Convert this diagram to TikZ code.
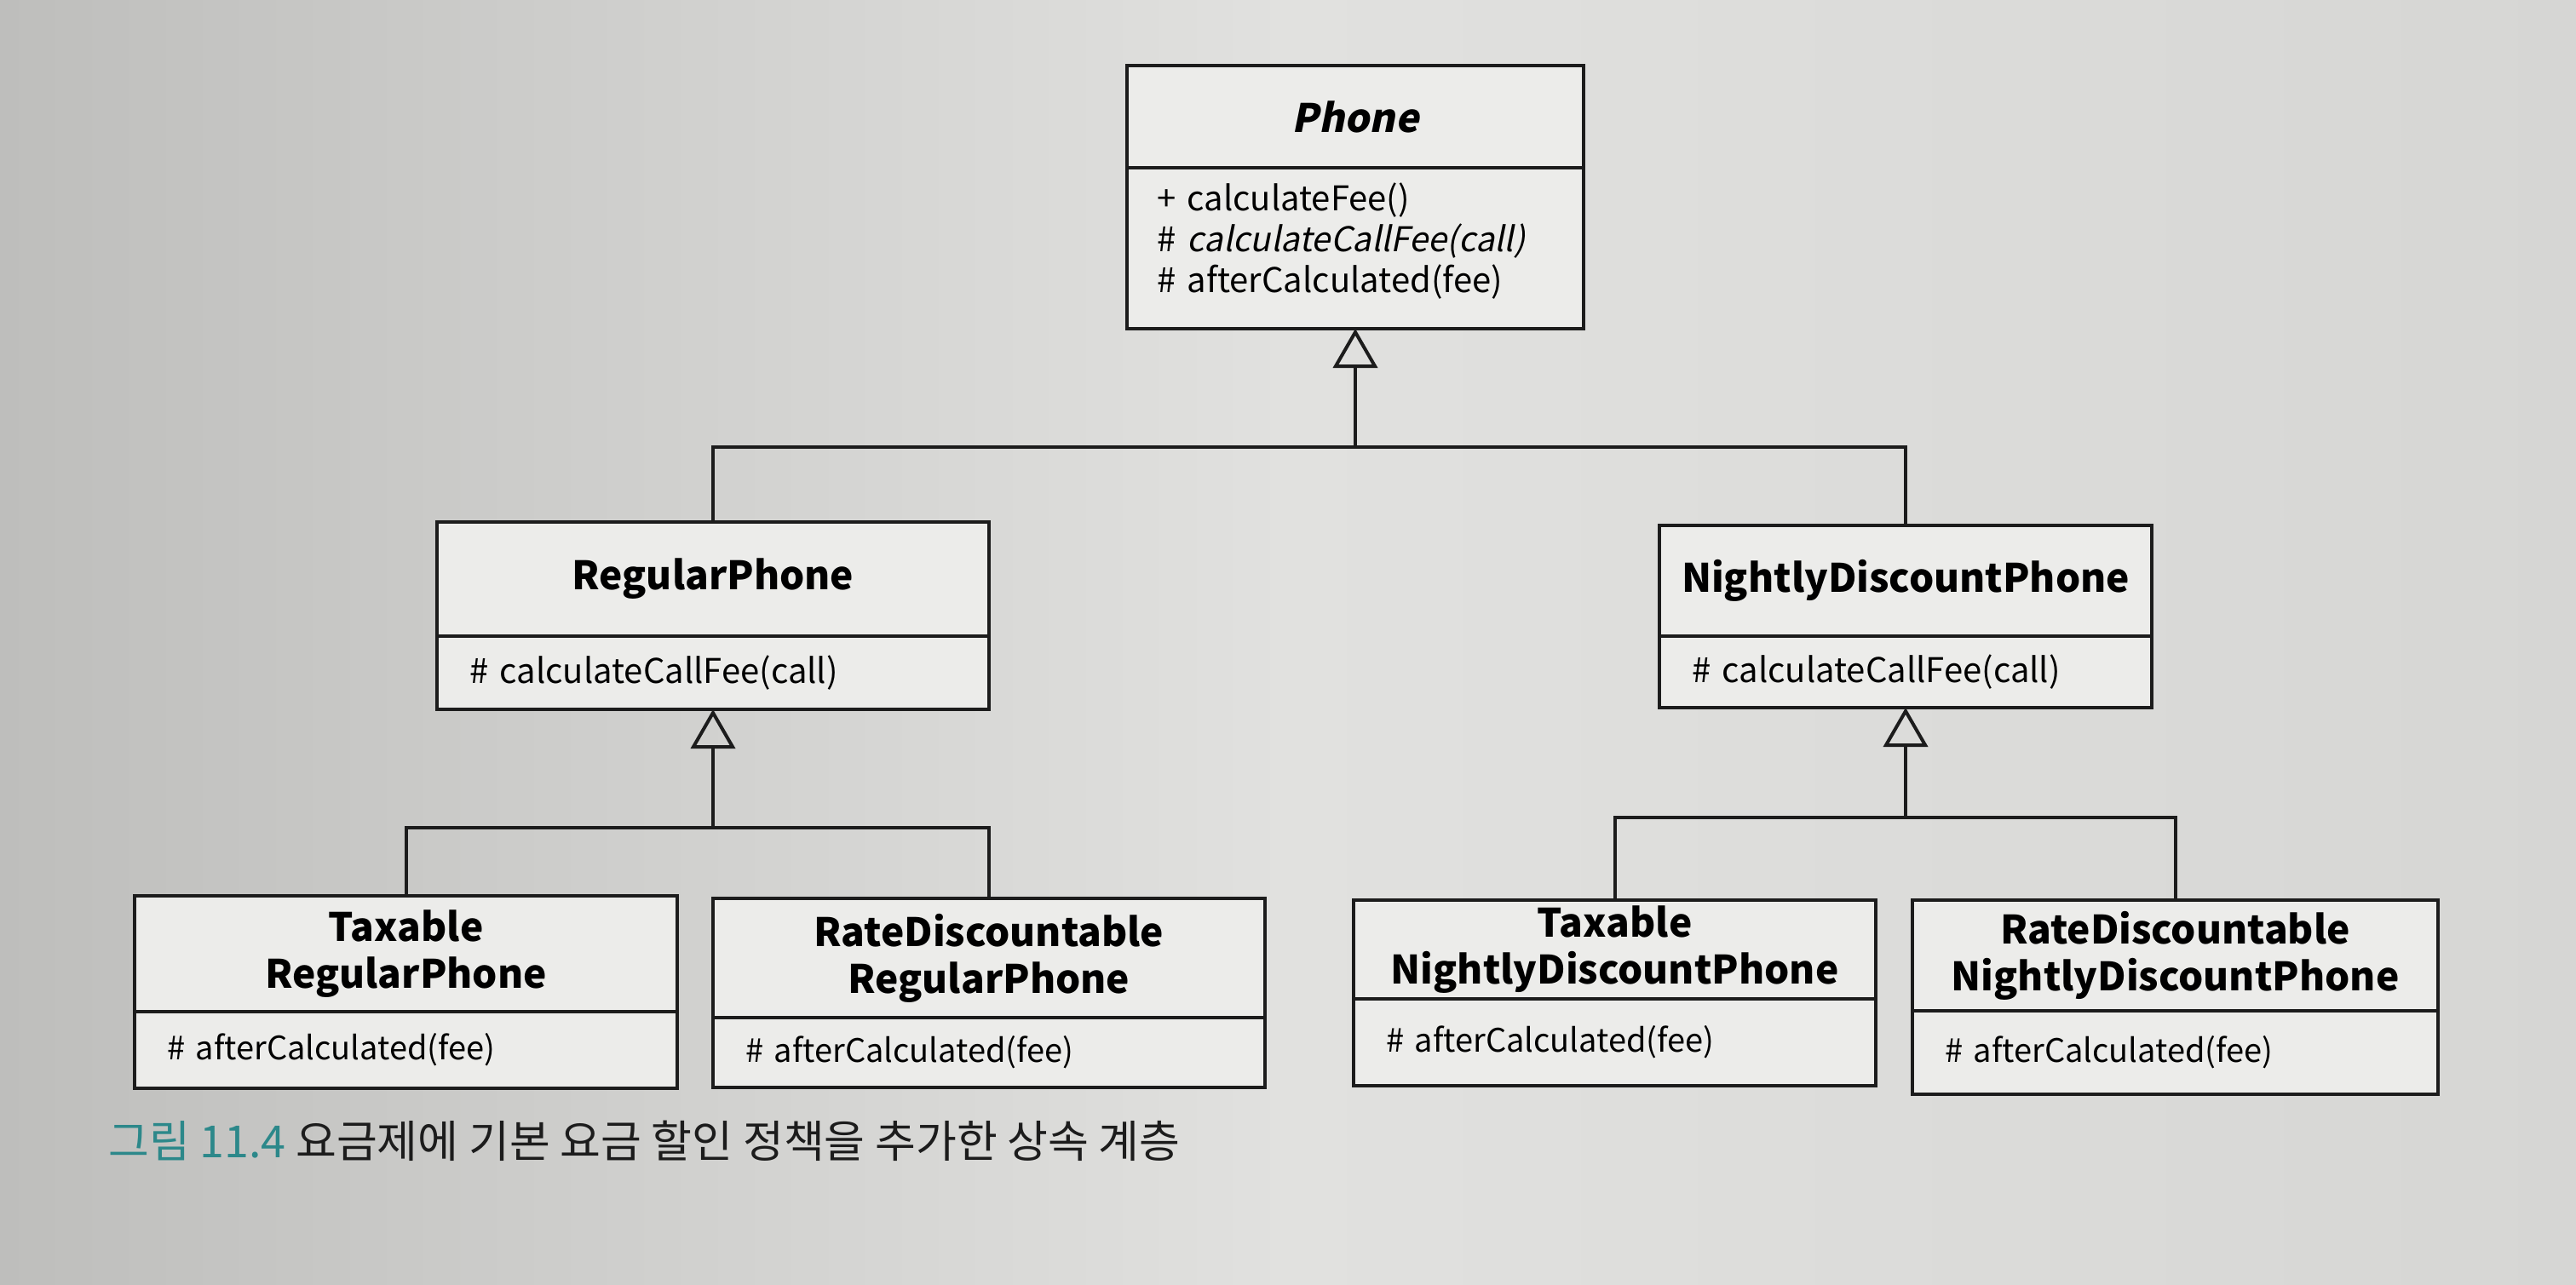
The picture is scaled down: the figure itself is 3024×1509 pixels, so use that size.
\documentclass[tikz,border=0pt]{standalone}
\usepackage{fontspec}
\setmainfont{Noto Sans CJK KR}
\newfontfamily\slantfam{Noto Sans CJK KR}[FakeSlant=0.2]
\usetikzlibrary{arrows.meta}
\definecolor{paperL}{RGB}{190,190,188}
\definecolor{paperM}{RGB}{225,225,223}
\definecolor{paperR}{RGB}{214,214,212}
\definecolor{boxfill}{RGB}{236,236,234}
\definecolor{ink}{RGB}{28,28,28}
\definecolor{capteal}{RGB}{44,136,138}
\begin{document}
\begin{tikzpicture}[x=1pt,y=-1pt,
  clsbox/.style={draw=ink, fill=boxfill, line width=4.5pt, anchor=north west, inner sep=0pt, outer sep=0pt},
  titlebox/.style={clsbox, align=center, font=\fontsize{46}{55}\selectfont\bfseries},
  methbox/.style={clsbox, align=left, inner xsep=38pt, font=\fontsize{40}{48}\selectfont},
  lowmeth/.style={methbox, font=\fontsize{38}{46}\selectfont},
  conn/.style={draw=ink, line width=4pt},
  inh/.style={conn, -{Triangle[open, length=46pt, width=52pt]}}
]
\shade[left color=paperL, right color=paperR, middle color=paperM] (0,0) rectangle (3024,1509);
\useasboundingbox (0,0) rectangle (3024,1509);

% Phone
\node[titlebox, minimum width=536pt, minimum height=120pt] (phoneT) at (1323,77) {\slantfam\bfseries Phone};
\node[methbox, minimum width=536pt, minimum height=189pt, text width=466pt, inner xsep=35pt] (phoneM) at (phoneT.south west)
  {\mbox{+ calculateFee()}\\ \mbox{\# {\slantfam calculateCallFee(call)}}\\ \mbox{\# afterCalculated(fee)}\rule[-24pt]{0pt}{1pt}};

% RegularPhone
\node[titlebox, minimum width=648pt, minimum height=134pt] (regT) at (513,613) {RegularPhone};
\node[methbox, minimum width=648pt, minimum height=86pt, text width=572pt] (regM) at (regT.south west) {\mbox{\# calculateCallFee(call)}};

% NightlyDiscountPhone
\node[titlebox, minimum width=578pt, minimum height=130pt] (nightT) at (1948,617) {NightlyDiscountPhone};
\node[methbox, minimum width=578pt, minimum height=84pt, text width=502pt] (nightM) at (nightT.south west) {\mbox{\# calculateCallFee(call)}};

% Taxable RegularPhone
\node[titlebox, minimum width=637pt, minimum height=136pt] (taxRegT) at (158,1052) {Taxable\\RegularPhone};
\node[lowmeth, minimum width=637pt, minimum height=90pt, text width=561pt] (taxRegM) at (taxRegT.south west) {\mbox{\# afterCalculated(fee)}};

% RateDiscountable RegularPhone
\node[titlebox, minimum width=648pt, minimum height=140pt] (rateRegT) at (837,1055) {RateDiscountable\\RegularPhone};
\node[lowmeth, minimum width=648pt, minimum height=82pt, text width=572pt] (rateRegM) at (rateRegT.south west) {\mbox{\# afterCalculated(fee)}};

% Taxable NightlyDiscountPhone
\node[titlebox, minimum width=613pt, minimum height=116pt] (taxNightT) at (1589,1057) {Taxable\\NightlyDiscountPhone};
\node[lowmeth, minimum width=613pt, minimum height=102pt, text width=537pt] (taxNightM) at (taxNightT.south west) {\mbox{\# afterCalculated(fee)}};

% RateDiscountable NightlyDiscountPhone
\node[titlebox, minimum width=617pt, minimum height=130pt] (rateNightT) at (2245,1057) {RateDiscountable\\NightlyDiscountPhone};
\node[lowmeth, minimum width=617pt, minimum height=98pt, text width=541pt] (rateNightM) at (rateNightT.south west) {\mbox{\# afterCalculated(fee)}};

% connectors
\coordinate (lvlA) at (0,525);
\coordinate (lvlB) at (0,972);
\coordinate (lvlC) at (0,960);
\coordinate (jA) at (phoneM.south |- lvlA);
\coordinate (jB) at (regM.south |- lvlB);
\coordinate (jC) at (nightM.south |- lvlC);

\draw[conn] (regT.north) |- (jA);
\draw[conn] (nightT.north) |- (jA);
\draw[inh] (jA) -- (phoneM.south);

\draw[conn] (taxRegT.north) |- (jB);
\draw[conn] (rateRegT.north) |- (jB);
\draw[inh] (jB) -- (regM.south);

\draw[conn] (taxNightT.north) |- (jC);
\draw[conn] (rateNightT.north) |- (jC);
\draw[inh] (jC) -- (nightM.south);

% caption
\node[anchor=west, inner sep=0pt, font=\fontsize{52}{60}\selectfont] (cap) at (127,1340)
  {{\color{capteal}그림 11.4} \color{ink}요금제에 기본 요금 할인 정책을 추가한 상속 계층};
\end{tikzpicture}
\end{document}
